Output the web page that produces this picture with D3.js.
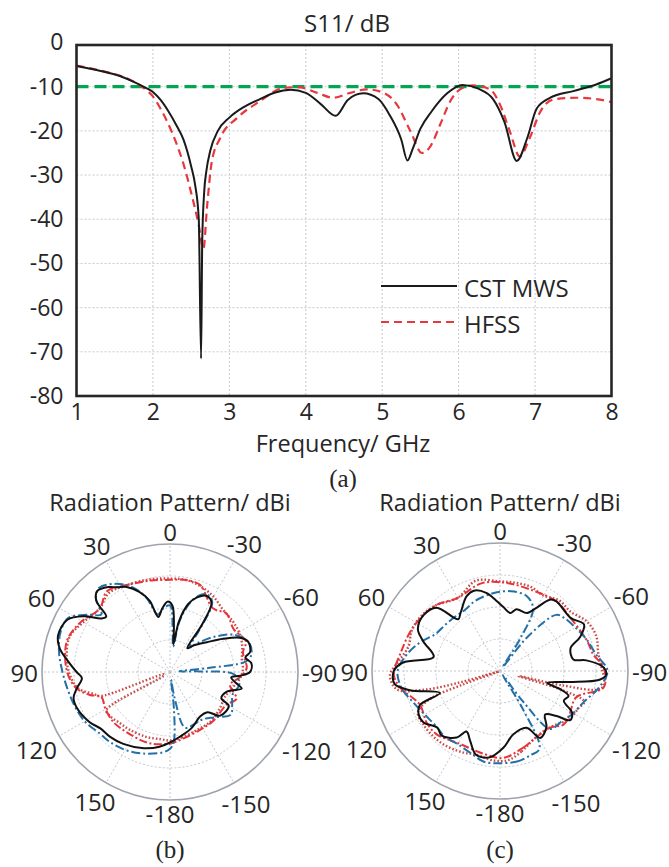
<!DOCTYPE html>
<html lang="en">
<head>
<meta charset="UTF-8">
<title>S11 and radiation patterns</title>
<script src="https://cdn.jsdelivr.net/npm/d3@7"></script>
<style>
  body { margin: 0; background: #fff; }
  text { font-family: "Open Sans", "Noto Sans", sans-serif; fill: #262626; }
  .cap { font-family: "Liberation Serif", "DejaVu Serif", serif; }
</style>
</head>
<body>
<svg id="fig" width="669" height="867"></svg>
<script>
// ---- (a) S11 data ----
var cstFreq = [1.0, 1.2, 1.4, 1.6, 1.75, 1.9, 2.0, 2.1, 2.2, 2.3, 2.4, 2.5, 2.55, 2.6, 2.63, 2.645, 2.67, 2.7, 2.75, 2.85, 3.0, 3.2, 3.4, 3.6, 3.8, 4.0, 4.2, 4.39, 4.55, 4.75, 4.95, 5.1, 5.25, 5.33, 5.4, 5.5, 5.65, 5.85, 6.05, 6.25, 6.45, 6.6, 6.76, 6.9, 7.02, 7.2, 7.5, 7.8, 8.0];
var cstDb = [-5.3, -6.0, -6.8, -7.8, -8.9, -10.2, -11.2, -13.0, -15.5, -18.5, -22, -28, -32, -40, -71.5, -45, -34, -29, -24.5, -20, -17, -14.5, -12.8, -11.3, -10.7, -11.4, -14, -16.6, -13, -11.5, -12.8, -16.5, -22, -26.7, -24, -19.5, -15.5, -11.5, -9.6, -10.4, -12.8, -18, -26.8, -21.5, -15, -12.5, -11, -9.5, -8.1];

var hfssFreq = [1.0, 1.2, 1.4, 1.6, 1.75, 1.9, 2.0, 2.1, 2.2, 2.3, 2.4, 2.5, 2.6, 2.66, 2.71, 2.77, 2.88, 3.1, 3.4, 3.7, 3.9, 4.15, 4.36, 4.58, 4.8, 5.02, 5.19, 5.37, 5.52, 5.63, 5.76, 5.89, 6.02, 6.19, 6.41, 6.54, 6.67, 6.8, 6.93, 7.07, 7.24, 7.54, 7.8, 8.0];
var hfssDb = [-5.2, -5.9, -6.7, -7.7, -8.9, -10.6, -12.2, -15, -18.4, -22.5, -27.5, -34, -41.4, -46.7, -36.8, -27, -21.6, -17.1, -13.3, -10.3, -10.1, -11.4, -12.5, -11.4, -10.6, -11.4, -14, -20.1, -25, -23.5, -18.5, -13.3, -10.6, -9.7, -10.6, -14, -20.1, -25.8, -21.6, -15.6, -12.9, -12.5, -12.8, -13.5];

var threshold = -10;
var xTicks = [1, 2, 3, 4, 5, 6, 7, 8];
var yTicks = [0, -10, -20, -30, -40, -50, -60, -70, -80];
var legendNames = ["CST MWS", "HFSS"];

// ---- (b), (c) radiation patterns: [angle deg, gain dBi] ----
var angleTicks = [0, 30, 60, 90, 120, 150, 180, -150, -120, -90, -60, -30];
var angleLabels = ["0", "30", "60", "90", "120", "150", "-180", "-150", "-120", "-90", "-60", "-30"];
var ringTicks = [-20, -10, 0];

var patB_black = [[-180,-8.0],[-171,-9.6],[-159,-11.2],[-146,-13.2],[-137,-12.8],[-131,-9.2],[-120,-8.8],[-117,-12.0],[-109,-11.2],[-103,-7.0],[-100,-8.8],[-95,-10.8],[-93,-8.0],[-90,-5.0],[-84,-4.4],[-79,-6.0],[-76,-4.2],[-69,-3.8],[-64,-5.6],[-58,-10.4],[-51,-15.2],[-42,-18.8],[-36,-20.8],[-34,-12.0],[-31,-4.8],[-26,-3.6],[-20,-5.2],[-15,-8.0],[-10,-14.0],[-7,-21.2],[-5,-16.0],[-2,-9.2],[2,-8.0],[7,-10.0],[12,-12.4],[16,-6.8],[21,-3.2],[27,-0.2],[32,1.2],[36,2.8],[42,4.0],[46,2.0],[49,-3.6],[52,-2.8],[57,2.0],[63,6.0],[72,6.8],[78,5.2],[84,2.0],[90,-0.8],[94,-2.4],[100,-0.4],[105,1.2],[111,1.2],[122,-0.4],[129,-2.0],[137,-2.4],[147,-3.2],[161,-4.8],[172,-6.4]];
var patB_blue = [[-180,-6.0],[-177,-8.0],[-174,-18.0],[-172,-27.6],[-170,-22.0],[-165,-12.0],[-155,-12.0],[-145,-12.0],[-135,-10.0],[-125,-6.8],[-118,-8.0],[-110,-9.2],[-100,-8.0],[-92,-10.0],[-89,-20.0],[-86,-27.0],[-84,-18.0],[-82,-6.0],[-78,-4.0],[-70,-3.6],[-60,-6.8],[-52,-12.0],[-44,-17.2],[-38,-20.0],[-35,-14.0],[-31,-4.4],[-25,-3.2],[-18,-6.0],[-11,-13.2],[-7,-22.0],[-4,-18.0],[0,-9.2],[6,-10.0],[12,-11.6],[18,-5.2],[25,-0.4],[33,2.8],[40,4.4],[45,2.8],[50,-2.0],[55,1.2],[62,6.0],[70,6.4],[80,5.2],[90,3.6],[100,2.4],[110,1.6],[120,0.8],[131,-0.8],[140,-1.2],[151,-2.0],[162,-3.2],[175,-4.8]];
var patB_red = [[-180,-7.6],[-169,-8.8],[-153,-9.6],[-138,-9.6],[-120,-9.6],[-112,-7.6],[-102,-10.8],[-94,-8.0],[-87,-6.0],[-75,-6.4],[-68,-4.4],[-56,-6.0],[-44,-4.6],[-34,-6.0],[-19,-1.2],[-10,-0.8],[0,-1.2],[12,-0.8],[27,0.4],[38,2.0],[48,-0.4],[61,2.0],[72,3.6],[81,3.2],[92,1.8],[100,-0.4],[106,-4.0],[110,-7.2],[119,-6.8],[131,-6.4],[144,-6.8],[162,-6.8],[172,-7.2]];
var patB_dot = [[-180,-8.6],[-170,-9.2],[-155,-10.0],[-140,-10.0],[-125,-10.8],[-115,-11.2],[-105,-10.0],[-95,-8.0],[-88,-7.2],[-80,-7.2],[-70,-6.0],[-62,-5.2],[-52,-4.8],[-40,-4.4],[-30,-2.8],[-20,-1.6],[-10,-0.8],[0,-0.8],[12,-0.4],[27,0.4],[38,1.2],[48,-0.4],[60,1.2],[70,3.2],[80,2.8],[90,1.6],[100,-0.8],[106,-5.2],[109,-6.8],[111,-28.0],[119,-28.0],[121,-6.8],[127,-6.8],[135,-7.6],[145,-8.0],[160,-8.4],[172,-8.8]];

var patC_black = [[-177.5,-6.0],[-168,-9.8],[-155,-10.4],[-149,-5.6],[-140.5,-7.2],[-134,-10.4],[-128.5,-7.4],[-125,-3.2],[-120,-4.0],[-115,-8.0],[-110,-7.2],[-107,-10.0],[-104,-14.8],[-99,-8.0],[-95,1.2],[-92,3.2],[-88,2.4],[-83,-2.8],[-81,-6.8],[-72,-6.8],[-67,-2.8],[-61,0.0],[-53,-2.4],[-39,-2.0],[-35,-2.8],[-30,-7.2],[-25,-10.0],[-15,-10.0],[-10,-11.6],[-3,-10.0],[3,-8.0],[10,-5.2],[18,-3.6],[24,-4.4],[34,-8.0],[39,-9.2],[45,-2.0],[54,-0.4],[63,-1.2],[69,-4.4],[78,-8.8],[85,0.4],[90,3.2],[97,3.2],[102,-1.2],[110,-10.0],[113,-2.8],[118,-1.2],[124,-1.2],[132,-3.6],[138,-2.8],[147,-5.2],[151,-8.4],[157,-6.2],[164,-2.8],[173,-2.8]];
var patC_blue = [[-180,-1.2],[-170,-1.2],[-160,-2.0],[-153,-2.8],[-149,-16.0],[-146,-28.4],[-143,-18.0],[-139,-6.0],[-130,-5.2],[-120,-3.6],[-110,-2.0],[-100,1.2],[-90,3.6],[-80,0.4],[-70,-1.2],[-60,-2.8],[-50,-4.0],[-45,-5.2],[-39,-16.0],[-35,-28.4],[-32,-18.0],[-28,-8.0],[-20,-5.2],[-10,-4.8],[0,-5.2],[10,-6.0],[20,-6.8],[30,-8.0],[40,-8.0],[50,-7.6],[60,-6.8],[70,-3.6],[80,-0.4],[90,2.0],[100,1.2],[110,-1.2],[120,-2.8],[130,-3.6],[140,-3.2],[150,-3.6],[160,-2.8],[170,-1.2]];
var patC_red = [[-178,-2.8],[-163,-5.0],[-151,-6.4],[-138.6,-6.4],[-130,-4.0],[-122,-4.4],[-109,-4.8],[-99,2.8],[-88,2.4],[-80,-0.4],[-71,-1.2],[-53,-2.4],[-39,-2.0],[-23,-2.8],[-4,-2.4],[12,-2.0],[30,-3.6],[45,-1.2],[63,0.4],[80,1.6],[92,3.2],[99.5,1.6],[112.6,-2.8],[125,-2.0],[135,-2.0],[151,-4.0],[169,-3.6]];
var patC_dot = [[-175,-2.0],[-165,-4.0],[-155,-6.0],[-145,-6.8],[-135,-6.0],[-125,-3.6],[-115,-2.8],[-110,-2.0],[-107,-10.0],[-105,-24.0],[-103,-10.0],[-100,2.0],[-95,2.8],[-90,2.0],[-80,1.2],[-70,2.0],[-60,1.2],[-50,-1.2],[-40,-1.2],[-30,-2.8],[-20,-2.0],[-10,-2.0],[0,-2.0],[15,-0.8],[30,-3.6],[45,-1.2],[55,0.0],[65,0.4],[75,-0.4],[85,2.0],[92,4.4],[100,2.8],[104,-6.0],[106,-18.0],[108,-29.6],[110,-18.0],[112,-6.0],[117,-1.2],[125,-0.8],[135,-0.8],[145,-1.2],[155,-2.0],[165,-2.8],[175,-2.0]];

var svg = d3.select("#fig");
svg.append("rect").attr("width", 669).attr("height", 867).attr("fill", "#fff");

// ================= (a) =================
var x = d3.scaleLinear().domain([1, 8]).range([76.5, 611.5]);
var y = d3.scaleLinear().domain([-80, 0]).range([396, 42.5]);

var grid = svg.append("g");
grid.selectAll(".vg").data(xTicks.slice(1, -1)).join("line")
    .attr("x1", d => x(d)).attr("x2", d => x(d))
    .attr("y1", 45).attr("y2", 396)
    .attr("stroke", "#c6c9d1").attr("stroke-width", 1).attr("stroke-dasharray", "2,2");
grid.selectAll(".hg").data(yTicks.slice(1, -1)).join("line")
    .attr("x1", x(1)).attr("x2", x(8))
    .attr("y1", d => y(d)).attr("y2", d => y(d))
    .attr("stroke", "#c6c9d1").attr("stroke-width", 1).attr("stroke-dasharray", "2,2");

svg.append("line")
    .attr("x1", x(1)).attr("x2", x(8))
    .attr("y1", y(threshold)).attr("y2", y(threshold))
    .attr("stroke", "#00a651").attr("stroke-width", 3.2).attr("stroke-dasharray", "12,6");

var s11line = d3.line().x(d => x(d[0])).y(d => y(d[1])).curve(d3.curveMonotoneX);
svg.append("path")
    .attr("d", s11line(d3.zip(hfssFreq, hfssDb)))
    .attr("fill", "none").attr("stroke", "#e8383d").attr("stroke-width", 2.2)
    .attr("stroke-dasharray", "8,5");
svg.append("path")
    .attr("d", s11line(d3.zip(cstFreq, cstDb)))
    .attr("fill", "none").attr("stroke", "#1a1a1a").attr("stroke-width", 2);

svg.append("rect")
    .attr("x", x(1)).attr("y", 45)
    .attr("width", x(8) - x(1)).attr("height", 396 - 45)
    .attr("fill", "none").attr("stroke", "#262626").attr("stroke-width", 2.6);

var xAxis = svg.append("g").attr("transform", "translate(0,396)")
    .call(d3.axisBottom(x).tickValues(xTicks).tickSize(0).tickPadding(8).tickFormat(d => String(d)));
var yAxis = svg.append("g").attr("transform", "translate(" + x(1) + ",0)")
    .call(d3.axisLeft(y).tickValues(yTicks).tickSize(0).tickPadding(13).tickFormat(d => String(d)));
[xAxis, yAxis].forEach(function (a) {
    a.select(".domain").remove();
    a.selectAll("text").attr("font-size", 23).attr("font-family", null).attr("fill", "#262626");
});

svg.append("text").attr("x", 347).attr("y", 22).attr("text-anchor", "middle")
    .attr("dominant-baseline", "central").attr("font-size", 24).text("S11/ dB");
svg.append("text").attr("x", 343).attr("y", 452).attr("text-anchor", "middle")
    .attr("font-size", 23.5).text("Frequency/ GHz");

// legend
var legStyles = [{ stroke: "#1a1a1a", dash: null }, { stroke: "#e8383d", dash: "8,5" }];
legendNames.forEach(function (name, i) {
    var ly = 286 + i * 36;
    svg.append("line").attr("x1", 381).attr("x2", 457).attr("y1", ly).attr("y2", ly)
        .attr("stroke", legStyles[i].stroke).attr("stroke-width", 2.2)
        .attr("stroke-dasharray", legStyles[i].dash);
    svg.append("text").attr("x", 464).attr("y", ly + 1).attr("dominant-baseline", "central")
        .attr("font-size", 24).text(name);
});

svg.append("text").attr("class", "cap").attr("x", 343).attr("y", 478)
    .attr("text-anchor", "middle").attr("dominant-baseline", "central")
    .attr("font-size", 25).text("(a)");

// ================= (b), (c) =================
var R = 128;
var r = d3.scaleLinear().domain([-30, 10]).range([0, R]);
var rad = d => d * Math.PI / 180;

var seriesStyles = [
    { key: "dot", stroke: "#c84b47", width: 2.4, dash: "1.6,2" },
    { key: "red", stroke: "#e8333a", width: 2, dash: "8,2.5,2,2.5" },
    { key: "blue", stroke: "#2370a9", width: 2, dash: "9,3,2,3" },
    { key: "black", stroke: "#111", width: 2, dash: null }
];

function drawPolar(cx, cy, caption, data) {
    var g = svg.append("g").attr("transform", "translate(" + cx + "," + cy + ")");

    g.selectAll(".ring").data(ringTicks).join("circle")
        .attr("r", d => r(d)).attr("fill", "none")
        .attr("stroke", "#c3c6cd").attr("stroke-width", 1).attr("stroke-dasharray", "2,2");
    g.selectAll(".spoke").data(angleTicks).join("line")
        .attr("x1", 0).attr("y1", 0)
        .attr("x2", d => -R * Math.sin(rad(d))).attr("y2", d => -R * Math.cos(rad(d)))
        .attr("stroke", "#c3c6cd").attr("stroke-width", 1).attr("stroke-dasharray", "2,2");
    g.append("circle").attr("r", R).attr("fill", "none")
        .attr("stroke", "#9ea3ac").attr("stroke-width", 1.6);

    var line = d3.lineRadial()
        .angle(d => -rad(d[0]))
        .radius(d => r(d[1]))
        .curve(d3.curveCatmullRomClosed.alpha(0.5));

    seriesStyles.forEach(function (s) {
        g.append("path").attr("d", line(data[s.key]))
            .attr("fill", "none").attr("stroke", s.stroke)
            .attr("stroke-width", s.width).attr("stroke-dasharray", s.dash);
    });

    angleTicks.forEach(function (a, i) {
        var t = g.append("text").attr("text-anchor", "middle").attr("dominant-baseline", "central")
            .attr("font-size", 24).text(angleLabels[i]);
        var w = t.node().getComputedTextLength();
        var off = R + 4 + 0.5 * w * Math.abs(Math.sin(rad(a))) + 9 * Math.abs(Math.cos(rad(a)));
        t.attr("x", -off * Math.sin(rad(a))).attr("y", -off * Math.cos(rad(a)));
    });

    svg.append("text").attr("x", cx).attr("y", 511).attr("text-anchor", "middle")
        .attr("font-size", 23.5).text("Radiation Pattern/ dBi");
    svg.append("text").attr("class", "cap").attr("x", cx).attr("y", 849)
        .attr("text-anchor", "middle").attr("dominant-baseline", "central")
        .attr("font-size", 25).text(caption);
}

drawPolar(170, 672, "(b)", { black: patB_black, blue: patB_blue, red: patB_red, dot: patB_dot });
drawPolar(500, 671, "(c)", { black: patC_black, blue: patC_blue, red: patC_red, dot: patC_dot });
</script>
</body>
</html>
